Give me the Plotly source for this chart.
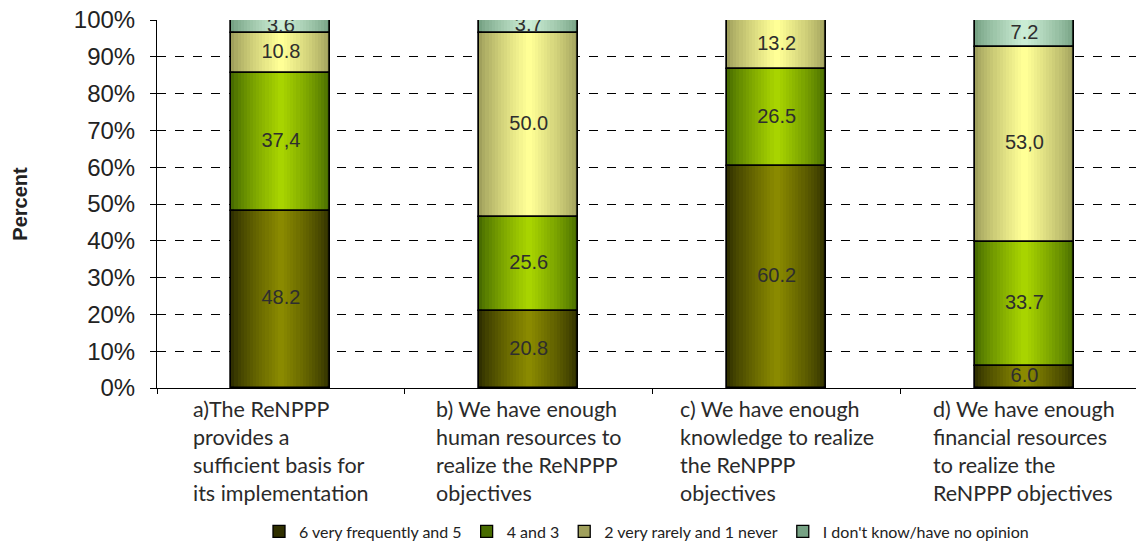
import plotly.graph_objects as go

# Survey statements (one stacked bar each)
categories = ["a", "b", "c", "d"]
category_labels = [
    "a)The ReNPPP<br>provides a<br>sufficient basis for<br>its implementation",
    "b) We have enough<br>human resources to<br>realize the ReNPPP<br>objectives",
    "c) We have enough<br>knowledge to realize<br>the ReNPPP<br>objectives",
    "d) We have enough<br>financial resources<br>to realize the<br>ReNPPP objectives",
]

# Answer groups, bottom to top
series_names = [
    "6 very frequently and 5",
    "4 and 3",
    "2 very rarely and 1 never",
    "I don't know/have no opinion",
]
freq_6_5 = [48.2, 20.8, 60.2, 6.0]
freq_4_3 = [37.4, 25.6, 26.5, 33.7]
freq_2_1 = [10.8, 50.0, 13.2, 53.0]
no_opinion = [3.6, 3.7, 0.0, 7.2]

labels_6_5 = ["48.2", "20.8", "60.2", "6.0"]
labels_4_3 = ["37,4", "25.6", "26.5", "33.7"]
labels_2_1 = ["10.8", "50.0", "13.2", "53,0"]
labels_no = ["3.6", "3.7", "", "7.2"]

series_values = [freq_6_5, freq_4_3, freq_2_1, no_opinion]
series_labels = [labels_6_5, labels_4_3, labels_2_1, labels_no]

# (edge colour, centre colour) for the horizontal shading of each series
series_colors = [
    ((48, 48, 0), (138, 138, 0)),
    ((72, 108, 0), (168, 212, 0)),
    ((160, 160, 92), (255, 255, 150)),
    ((118, 162, 132), (202, 236, 212)),
]

BAR_W = 0.40
N_LAYERS = 16


def mix(c0, c1, t):
    return "rgb(%d,%d,%d)" % tuple(round(a + (b - a) * t) for a, b in zip(c0, c1))


fig = go.Figure()

# running base for manual stacking
bases = []
acc = [0.0] * len(categories)
for vals in series_values:
    bases.append(acc[:])
    acc = [a + v for a, v in zip(acc, vals)]

# shaded fill: progressively narrower, lighter layers
for s, vals in enumerate(series_values):
    edge, centre = series_colors[s]
    for k in range(N_LAYERS):
        t = (k / (N_LAYERS - 1)) ** 0.8
        w = BAR_W * (1 - k / N_LAYERS)
        first = k == 0
        fig.add_trace(go.Bar(
            x=categories, y=vals, base=bases[s], width=w,
            marker=dict(color=mix(edge, centre, t),
                        line=dict(color="black", width=1.3 if first else 0)),
            name=series_names[s], showlegend=first, legendgroup=series_names[s],
            hoverinfo="skip",
        ))

# black outlines drawn on top
for s, vals in enumerate(series_values):
    fig.add_trace(go.Bar(
        x=categories, y=vals, base=bases[s], width=BAR_W,
        marker=dict(color="rgba(0,0,0,0)", line=dict(color="black", width=1.6)),
        showlegend=False, legendgroup=series_names[s], hoverinfo="skip",
    ))

# value labels at segment centres
for s, vals in enumerate(series_values):
    xs, ys, ts = [], [], []
    for i, v in enumerate(vals):
        if v > 0:
            xs.append(categories[i])
            ys.append(bases[s][i] + v / 2)
            ts.append(series_labels[s][i])
    fig.add_trace(go.Scatter(
        x=xs, y=ys, text=ts, mode="text", showlegend=False, hoverinfo="skip",
        textfont=dict(family="Liberation Sans, Arial", size=20, color="#2e2e2e"),
    ))

for cat, lab in zip(categories, category_labels):
    fig.add_annotation(
        x=cat, xref="x", y=-0.017, yref="paper", text=lab, showarrow=False,
        xanchor="center", yanchor="top", align="left",
        font=dict(family="Lato, Open Sans", size=21.5, color="#2a2a2a"),
    )

fig.update_layout(
    width=1141, height=554,
    margin=dict(l=157, r=5, t=20, b=161),
    paper_bgcolor="white", plot_bgcolor="white",
    barmode="overlay", bargap=0,
    showlegend=True,
    legend=dict(
        orientation="h", x=0.5, xanchor="center", y=-0.39, yanchor="middle",
        font=dict(family="Lato, Open Sans", size=16, color="#222222"),
        itemwidth=30, tracegroupgap=0,
    ),
    xaxis=dict(
        type="category", range=[-0.5, 3.45],
        showline=True, linecolor="black", linewidth=1,
        ticks="outside", tickson="boundaries", ticklen=5, tickcolor="black",
        showticklabels=False, showgrid=False, zeroline=False,
    ),
    yaxis=dict(
        range=[0, 100], dtick=10, ticksuffix="%",
        showline=True, linecolor="black", linewidth=1,
        ticks="outside", ticklen=6, tickcolor="black",
        ticklabelstandoff=10,
        showgrid=True, gridcolor="black", griddash="dash", gridwidth=1,
        zeroline=False,
        tickfont=dict(family="Liberation Sans, Arial", size=24, color="#222222"),
        title=dict(text="<b>Percent</b>", standoff=40,
                   font=dict(family="Liberation Sans, Arial", size=20, color="#222222")),
    ),
)

fig.write_html("out.html")
